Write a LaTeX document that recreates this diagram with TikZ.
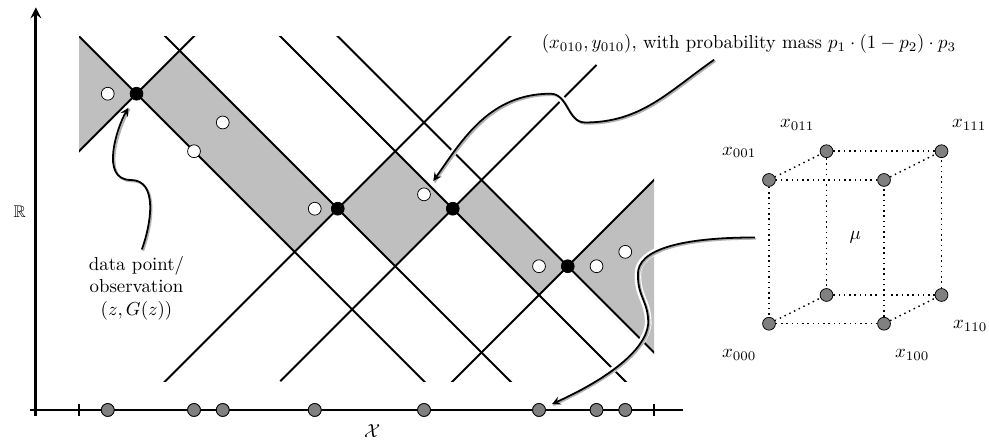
\documentclass[tikz,border=0pt]{standalone}
\usepackage{amsmath}
\usepackage{amssymb}
\usepackage{tikz}
\usetikzlibrary{fit}

\begin{document}
\begin{tikzpicture}[x=1.075cm,y=1.075cm,
  obsdot/.style={circle,draw=black,fill=black,inner sep=0pt,minimum size=2.4mm},
  newdot/.style={circle,draw=black,fill=white,inner sep=0pt,minimum size=2.4mm},
  grydot/.style={circle,draw=black,fill=gray,inner sep=0pt,minimum size=2.4mm},
  cone/.style={line width=1.05pt},
  cubeedge/.style={thick,dotted},
  curvy/.style={->,>=stealth,line width=0.95pt,
    preaction={draw=white,line width=3.5pt,-},
    preaction={draw=black!30,line width=1pt,-,transform canvas={shift={(0.7pt,-0.7pt)}}}}
]
\useasboundingbox (-1.374,-0.557) rectangle (15.826,7.13);

% region between the lower and the upper envelope
\fill[gray!50] (0,6.5) -- (1,5.5) -- (1.75,6.25) -- (4.5,3.5) -- (5.5,4.5) -- (6.5,3.5)
  -- (7,4) -- (8.5,2.5) -- (10,4) -- (10,1) -- (8.5,2.5) -- (8,2) -- (6.5,3.5)
  -- (5.5,2.5) -- (4.5,3.5) -- (3.75,2.75) -- (1,5.5) -- (0,4.5) -- cycle;

% cones through the observations
\begin{scope}
\clip (0,0.5) rectangle (10,6.5);
\foreach \x/\y in {1/5.5, 4.5/3.5, 8.5/2.5} {
  \draw[cone] (\x-7,\y+7) -- (\x+7,\y-7);
  \draw[cone] (\x-7,\y-7) -- (\x+7,\y+7);
}
\draw[cone] (3,7) -- (10,0);
\draw[cone] (3.5,0.5) -- (9,6);
\end{scope}

% --- observations ---
\node[obsdot] (d1) at (1,5.5) {};
\node[obsdot] (d2) at (4.5,3.5) {};
\node[obsdot] (d3) at (6.5,3.5) {};
\node[obsdot] (d4) at (8.5,2.5) {};

% --- labels ---
\node[align=center] (obs) at (1,2.12) {data point/\\observation\\$(z,G(z))$};
\node (prob) at (11.65,6.37) {$(x_{010},y_{010})$, with probability mass $p_1\cdot(1-p_2)\cdot p_3$};

% --- cube ---
\node[grydot] (c000) at (12,1.5) {};
\node[grydot] (c100) at (14,1.5) {};
\node[grydot] (c001) at (12,4) {};
\node[grydot] (c101) at (14,4) {};
\node[grydot] (c010) at (13,2) {};
\node[grydot] (c110) at (15,2) {};
\node[grydot] (c011) at (13,4.5) {};
\node[grydot] (c111) at (15,4.5) {};
\node[fit=(c000)(c111),inner sep=1.3mm] (cube) {};

\draw[cubeedge] (c010) -- (c110);
\draw[cubeedge] (c110) -- (c111);
\draw[cubeedge] (c111) -- (c011);
\draw[cubeedge] (c011) -- (c010);
\draw[cubeedge] (c000) -- (c010);
\draw[cubeedge] (c100) -- (c110);
\draw[cubeedge] (c001) -- (c011);
\draw[cubeedge] (c101) -- (c111);
\foreach \a/\b in {c000/c100, c100/c101, c101/c001, c001/c000}
  \draw[cubeedge,preaction={draw=white,solid,line width=4pt}] (\a) -- (\b);

\node (mu) at (13.5,3) {$\mu$};
\node (l000) at (11.48,0.96) {$x_{000}$};
\node (l100) at (14.49,0.96) {$x_{100}$};
\node (l110) at (15.5,1.46) {$x_{110}$};
\node (l001) at (11.48,4.48) {$x_{001}$};
\node (l011) at (12.49,4.96) {$x_{011}$};
\node (l111) at (15.48,4.96) {$x_{111}$};

% --- curvy arrows ---
\foreach \x/\y [count=\i] in {0.5/5.5, 2/4.5, 2.5/5, 4.1/3.5, 6/3.75, 8/2.5, 9/2.5, 9.5/2.75} {
  \node[newdot] (q\i) at (\x,\y) {};
  \node[grydot] (a\i) at (\x,0) {};
}
\draw[curvy,shorten >=5pt] ([xshift=0.1cm]obs.north) to[out=70,in=0] (0.9,4) to[out=180,in=240] (d1);
\draw[curvy,shorten >=5pt] ([xshift=-0.65cm]prob.south) to[out=-145,in=0] (8.8,5)
  to[out=180,in=0] (8.2,5.5) to[out=180,in=55] (q5);
\draw[curvy,shorten >=4pt] (cube.west) .. controls (10.5,3) and (9.7,2.8) .. (9.72,2.35)
  .. controls (9.72,1.95) and (9.9,1.9) .. (9.9,1.5)
  .. controls (9.85,1) and (9.1,0.5) .. (a6);

% --- axes ---
\draw[line width=1.5pt,->,>=stealth] (-0.75,-0.1) -- (-0.75,7);
\draw[line width=1.5pt] (-0.85,0) -- (10.5,0);
\draw[line width=1.2pt] (0,-0.1) -- (0,0.1);
\draw[line width=1.2pt] (10,-0.1) -- (10,0.1);
\foreach \i in {1,...,8} \node[grydot] at (a\i) {};

\node (rlab) at (-1.03,3.45) {\small$\mathbb{R}$};
\node (xlab) at (5.1,-0.37) {$\mathcal{X}$};
\end{tikzpicture}
\end{document}
